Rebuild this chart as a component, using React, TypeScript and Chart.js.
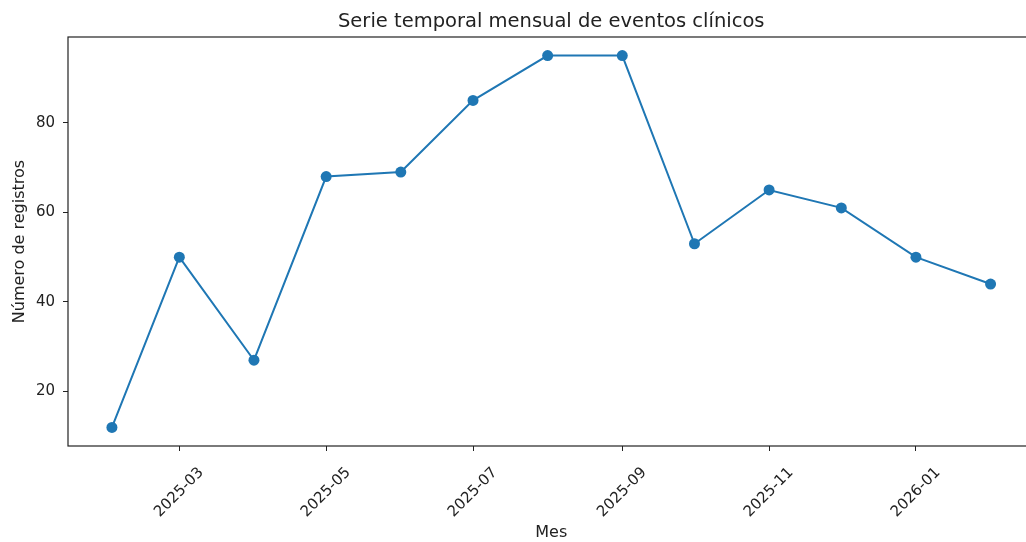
import React, { useEffect, useRef } from "react";
import { Chart, registerables } from "chart.js";

Chart.register(...registerables);

const months = [
  "2025-02", "2025-03", "2025-04", "2025-05", "2025-06", "2025-07", "2025-08",
  "2025-09", "2025-10", "2025-11", "2025-12", "2026-01", "2026-02",
];
const counts = [12, 50, 27, 68, 69, 85, 95, 95, 53, 65, 61, 50, 44];
const xTickMonths = ["2025-03", "2025-05", "2025-07", "2025-09", "2025-11", "2026-01"];
const yTickValues = [20, 40, 60, 80];

const chartTitle = "Serie temporal mensual de eventos clínicos";
const xAxisTitle = "Mes";
const yAxisTitle = "Número de registros";

const DAY_MS = 86400000;
const BASE = Date.UTC(2025, 1, 1);
const toDay = (m: string) => {
  const [y, mo] = m.split("-").map(Number);
  return (Date.UTC(y, mo - 1, 1) - BASE) / DAY_MS;
};

const FONT = "'DejaVu Sans', 'Liberation Sans', sans-serif";
const INK = "#222222";
const BLUE = "#1f77b4";

const framePlugin = {
  id: "frame",
  afterDraw(chart: any) {
    const { ctx, chartArea } = chart;
    ctx.save();
    ctx.strokeStyle = INK;
    ctx.lineWidth = 1.2;
    ctx.strokeRect(chartArea.left, chartArea.top, chartArea.right - chartArea.left, chartArea.bottom - chartArea.top);
    ctx.restore();
  },
};

export default function App() {
  const ref = useRef<HTMLCanvasElement | null>(null);

  useEffect(() => {
    if (!ref.current) return;
    const xs = months.map(toDay);
    const xMinD = Math.min(...xs), xMaxD = Math.max(...xs);
    const xPad = (xMaxD - xMinD) * 0.05;
    const yMinD = Math.min(...counts), yMaxD = Math.max(...counts);
    const yPad = (yMaxD - yMinD) * 0.05;
    const labelMap = new Map<number, string>(xTickMonths.map((m) => [toDay(m), m]));

    const chart = new Chart(ref.current, {
      type: "line",
      data: {
        datasets: [
          {
            data: months.map((m, i) => ({ x: toDay(m), y: counts[i] })),
            borderColor: BLUE,
            backgroundColor: BLUE,
            borderWidth: 2,
            pointRadius: 5.5,
            pointHoverRadius: 5.5,
            pointBorderWidth: 0,
            pointBackgroundColor: BLUE,
            tension: 0,
            fill: false,
          },
        ],
      },
      options: {
        animation: false,
        responsive: false,
        maintainAspectRatio: false,
        layout: { padding: { left: 0, right: 2, top: 0, bottom: 0 } },
        plugins: {
          legend: { display: false },
          tooltip: { enabled: false },
          title: {
            display: true,
            fullSize: false,
            text: chartTitle,
            color: INK,
            font: { family: FONT, size: 19.5, weight: "normal" },
            padding: { top: 9.8, bottom: 3.8 },
          },
        },
        scales: {
          x: {
            type: "linear",
            min: xMinD - xPad,
            max: xMaxD + xPad,
            afterBuildTicks: (scale: any) => {
              scale.ticks = xTickMonths.map((m) => ({ value: toDay(m) }));
            },
            afterFit: (scale: any) => {
              scale.height = 96;
            },
            ticks: {
              autoSkip: false,
              minRotation: 45,
              maxRotation: 45,
              labelOffset: 22,
              padding: 13,
              color: INK,
              font: { family: FONT, size: 15 },
              callback: (v: any) => labelMap.get(Number(v)) ?? "",
            },
            grid: {
              display: true,
              drawOnChartArea: false,
              drawTicks: true,
              tickLength: 5,
              tickColor: INK,
              tickWidth: 1,
            },
            border: { display: false },
            title: {
              display: true,
              text: xAxisTitle,
              color: INK,
              font: { family: FONT, size: 16 },
              padding: { top: 0, bottom: 0 },
            },
          },
          y: {
            type: "linear",
            min: yMinD - yPad,
            max: yMaxD + yPad,
            afterBuildTicks: (scale: any) => {
              scale.ticks = yTickValues.map((v) => ({ value: v }));
            },
            afterFit: (scale: any) => {
              scale.width = 68;
            },
            ticks: {
              padding: 8,
              color: INK,
              font: { family: FONT, size: 15 },
              callback: (v: any) => String(v),
            },
            grid: {
              display: true,
              drawOnChartArea: false,
              drawTicks: true,
              tickLength: 5,
              tickColor: INK,
              tickWidth: 1,
            },
            border: { display: false },
            title: {
              display: true,
              text: yAxisTitle,
              color: INK,
              font: { family: FONT, size: 16 },
              padding: { top: 10, bottom: 0 },
            },
          },
        },
      },
      plugins: [framePlugin],
    } as any);

    return () => chart.destroy();
  }, []);

  return (
    <div style={{ position: "fixed", left: 0, top: 0, width: 1026, height: 542, overflow: "hidden", background: "#fff" }}>
      <canvas ref={ref} width={1040} height={542} style={{ display: "block" }} />
    </div>
  );
}
